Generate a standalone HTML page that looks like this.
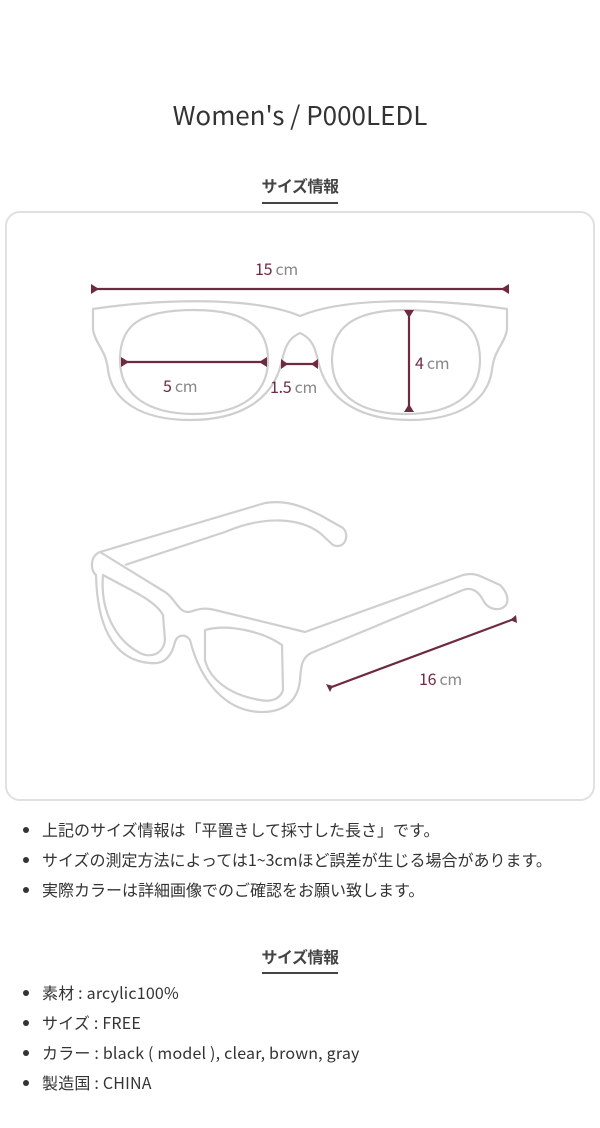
<!DOCTYPE html>
<html><head><meta charset="utf-8"><style>
*{margin:0;padding:0;box-sizing:border-box}
body{width:600px;height:1128px;background:#fff;position:relative;font-family:"Noto Sans CJK JP","Liberation Sans",sans-serif;color:#333;overflow:hidden}
.a{position:absolute;white-space:nowrap}
.t{left:0;width:600px;text-align:center;top:96px;font-size:26px;color:#333;font-family:"Noto Sans CJK JP",sans-serif;letter-spacing:0px}
.h{left:0;width:600px;text-align:center;font-size:16px;font-weight:bold;color:#444;letter-spacing:-0.5px}
.u{height:2px;background:#444;left:262px;width:76px}
.box{left:5px;top:211px;width:590px;height:590px;border:2px solid #e0e0e0;border-radius:15px}
.li{left:42px;font-size:16px;color:#333;letter-spacing:0px}
.li:before{content:"";position:absolute;left:-19px;top:10px;width:6px;height:6px;border-radius:50%;background:#333}
.li2{letter-spacing:0.2px;font-size:16px}
</style></head><body>
<div class="a t">Women's / P000LEDL</div>
<div class="a h" style="top:173px">サイズ情報</div>
<div class="a u" style="top:202px"></div>
<div class="a box"></div>
<svg class="a" style="left:0;top:0" width="600" height="800" viewBox="0 0 600 800">
<g fill="none" stroke="#cfcfcf" stroke-width="2.2" stroke-linejoin="round">
<path d="M93,309 C150,300 250,295 300,316 C350,295 450,300 507,309 L507,330 C504,345 494,350 492,370 C488,400 460,420 410,420 C360,420 330,400 320,368 C316,355 316,340 300,333 C284,340 284,355 280,368 C270,400 240,420 190,420 C140,420 112,400 108,370 C106,350 96,345 93,330 Z"/>
<path d="M194,310 C250,310 268,330 268,360 C268,395 240,414 194,414 C148,414 120,395 120,360 C120,325 140,310 194,310 Z"/>
<path d="M406,310 C460,310 480,325 480,360 C480,395 452,414 406,414 C360,414 332,395 332,360 C332,330 350,310 406,310 Z"/>
<path d="M100,552 L265,503 C285,500 300,505 320,515 L343,528 C350,535 345,550 333,545 L320,533 C300,518 265,515 225,532 L125,565"/>
<path d="M100,552 C90,556 90,570 96,575 C97,620 110,660 150,663 C165,665 172,655 175,642 C177,635 185,633 190,640 C200,680 225,712 262,712 C285,712 298,700 300,680 C301,665 302,658 311,653 L463,590 C470,587 478,590 483,600 C488,610 500,612 506,605 C510,598 505,590 500,585 L480,576 C472,573 468,574 463,575 L305,632 L215,610 C200,606 193,612 188,612 C178,612 175,598 165,592 L100,552 Z"/>
<path d="M103,575 C130,590 155,600 163,615 L165,640 C163,655 150,658 140,653 C115,640 100,610 103,575 Z"/>
<path d="M205,630 C230,623 265,633 282,645 L283,690 C280,700 270,702 260,700 C230,695 210,680 205,660 Z"/>
</g>
<g stroke="#6d2a40" stroke-width="2.2" fill="#6d2a40">
<line x1="93" y1="289" x2="507" y2="289"/>
<polygon points="91,284 99,289 91,294" stroke="none"/><polygon points="509,284 501,289 509,294" stroke="none"/>
<line x1="123" y1="362" x2="265" y2="362"/>
<polygon points="121,357 129,362 121,367" stroke="none"/><polygon points="267,357 259,362 267,367" stroke="none"/>
<line x1="282" y1="364" x2="317" y2="364"/>
<polygon points="281,359 288,364 281,369" stroke="none"/><polygon points="318,359 311,364 318,369" stroke="none"/>
<line x1="409" y1="311" x2="409" y2="411"/>
<polygon points="404,310 409,318 414,310" stroke="none"/><polygon points="404,412 409,404 414,412" stroke="none"/>
<line x1="329" y1="688" x2="514" y2="619"/>
<polygon points="326,684 333,686 330,692" stroke="none"/><polygon points="516,615 517,623 510,620" stroke="none"/>
</g>
<g font-family="Noto Sans CJK JP, sans-serif" font-size="16" letter-spacing="-0.3">
<text x="255" y="275"><tspan fill="#6d2a40">15</tspan><tspan fill="#888"> cm</tspan></text>
<text x="163" y="392"><tspan fill="#6d2a40">5</tspan><tspan fill="#888"> cm</tspan></text>
<text x="270" y="393"><tspan fill="#6d2a40">1.5</tspan><tspan fill="#888"> cm</tspan></text>
<text x="415" y="369"><tspan fill="#6d2a40">4</tspan><tspan fill="#888"> cm</tspan></text>
<text x="419" y="685"><tspan fill="#6d2a40">16</tspan><tspan fill="#888"> cm</tspan></text>
</g>
</svg>
<div class="a li" style="top:817px">上記のサイズ情報は「平置きして採寸した長さ」です。</div>
<div class="a li" style="top:847px">サイズの測定方法によっては1~3cmほど誤差が生じる場合があります。</div>
<div class="a li" style="top:877px">実際カラーは詳細画像でのご確認をお願い致します。</div>
<div class="a h" style="top:944px">サイズ情報</div>
<div class="a u" style="top:972px"></div>
<div class="a li li2" style="top:980px">素材 : arcylic100%</div>
<div class="a li li2" style="top:1010px">サイズ : FREE</div>
<div class="a li li2" style="top:1040px">カラー : black ( model ),  clear,  brown,  gray</div>
<div class="a li li2" style="top:1070px">製造国 : CHINA</div>
</body></html>
